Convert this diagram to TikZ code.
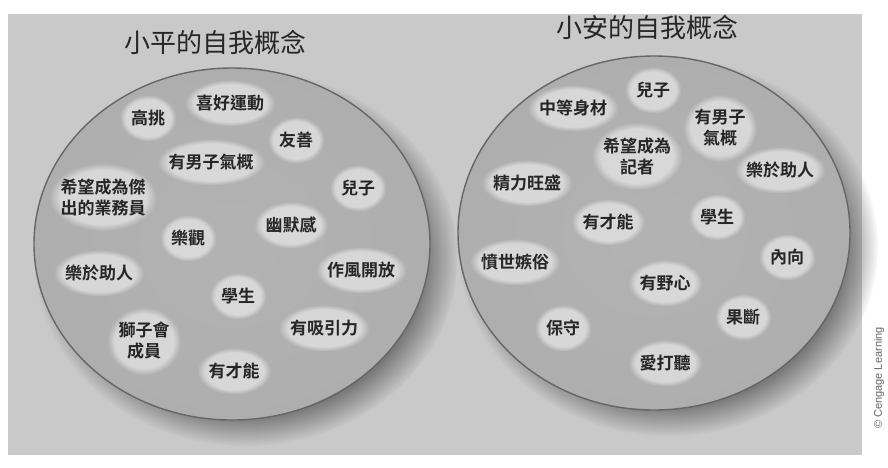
\documentclass[tikz,border=0pt]{standalone}
\usepackage{fontspec}
\newfontfamily\cjk{Noto Sans CJK TC}[BoldFont={Noto Sans CJK TC Bold}]
\newfontfamily\credit{Liberation Sans}
\usetikzlibrary{fadings,calc}
\definecolor{panel}{gray}{0.79}
\definecolor{rim}{gray}{0.40}
\pgfdeclareradialshading{bowl}{\pgfpoint{0bp}{0bp}}{color(0bp)=(black!30); color(30bp)=(black!32); color(44bp)=(black!36); color(48bp)=(black!44); color(50bp)=(black!55)}
\pgfdeclarelayer{back}
\pgfdeclarelayer{glow}
\pgfsetlayers{back,glow,main}
\begin{document}
\begin{tikzpicture}[x=1pt,y=-1pt,
  lbl/.style={font=\cjk\bfseries\fontsize{17}{21}\selectfont, align=center, text=black!85, inner sep=1pt},
  ttl/.style={font=\cjk\fontsize{26}{30}\selectfont, text=black!85, inner sep=0pt},
  bowlfill/.style={shading=bowl, draw=rim, line width=1.4pt},
  shadowfill/.style={fill=black!60, path fading=circle with fuzzy edge 20 percent},
  glowfill/.style={white, fill opacity=0.5, path fading=circle with fuzzy edge 20 percent}]
\useasboundingbox (0,0) rectangle (888,467);
\begin{pgfonlayer}{back}
\fill[white] (0,0) rectangle (888,467);
\fill[panel] (8,14) rectangle (862,455);
% shadows
\fill[shadowfill] (246,258) ellipse [x radius=212, y radius=188];
\fill[shadowfill] (668,247) ellipse [x radius=210, y radius=189];
% bowls
\path[bowlfill] (232,244) ellipse [x radius=198, y radius=176];
\path[bowlfill] (654,233) ellipse [x radius=196, y radius=177];
\end{pgfonlayer}

% titles
\node[ttl] (t1) at (215,42) {小平的自我概念};
\node[ttl] (t2) at (647,27) {小安的自我概念};

% left bowl
\node[lbl] (a1) at (148,118) {高挑};
\node[lbl] (a2) at (230,103) {喜好運動};
\node[lbl] (a3) at (296,140) {友善};
\node[lbl] (a4) at (211,162) {有男子氣概};
\node[lbl] (a5) at (103,197) {希望成為傑\\出的業務員};
\node[lbl] (a6) at (358,188) {兒子};
\node[lbl] (a7) at (291,225) {幽默感};
\node[lbl] (a8) at (188,238) {樂觀};
\node[lbl] (a9) at (99,273) {樂於助人};
\node[lbl] (a10) at (361,270) {作風開放};
\node[lbl] (a11) at (238,296) {學生};
\node[lbl] (a12) at (144,341) {獅子會\\成員};
\node[lbl] (a13) at (324,328) {有吸引力};
\node[lbl] (a14) at (234,371) {有才能};

% right bowl
\node[lbl] (b1) at (653,90) {兒子};
\node[lbl] (b2) at (573,108) {中等身材};
\node[lbl] (b3) at (720,128) {有男子\\氣概};
\node[lbl] (b4) at (637,156) {希望成為\\記者};
\node[lbl] (b5) at (780,170) {樂於助人};
\node[lbl] (b6) at (527,183) {精力旺盛};
\node[lbl] (b7) at (608,222) {有才能};
\node[lbl] (b8) at (717,217) {學生};
\node[lbl] (b9) at (515,262) {憤世嫉俗};
\node[lbl] (b10) at (787,257) {內向};
\node[lbl] (b11) at (665,283) {有野心};
\node[lbl] (b12) at (743,317) {果斷};
\node[lbl] (b13) at (563,328) {保守};
\node[lbl] (b14) at (665,363) {愛打聽};

% credit
\node[rotate=90, font=\credit\fontsize{11}{13}\selectfont, text=black!60, inner sep=0pt] (cr) at (879,378) {© Cengage Learning};

% glows behind labels
\begin{pgfonlayer}{glow}
\foreach \n in {a1,a2,a3,a4,a5,a6,a7,a8,a9,a10,a11,a12,a13,a14,b1,b2,b3,b4,b5,b6,b7,b8,b9,b10,b11,b12,b13,b14}
  \fill[glowfill]
    ($(\n.south west)+(-10,14)$) rectangle ($(\n.north east)+(10,-14)$);
\end{pgfonlayer}
\end{tikzpicture}
\end{document}
